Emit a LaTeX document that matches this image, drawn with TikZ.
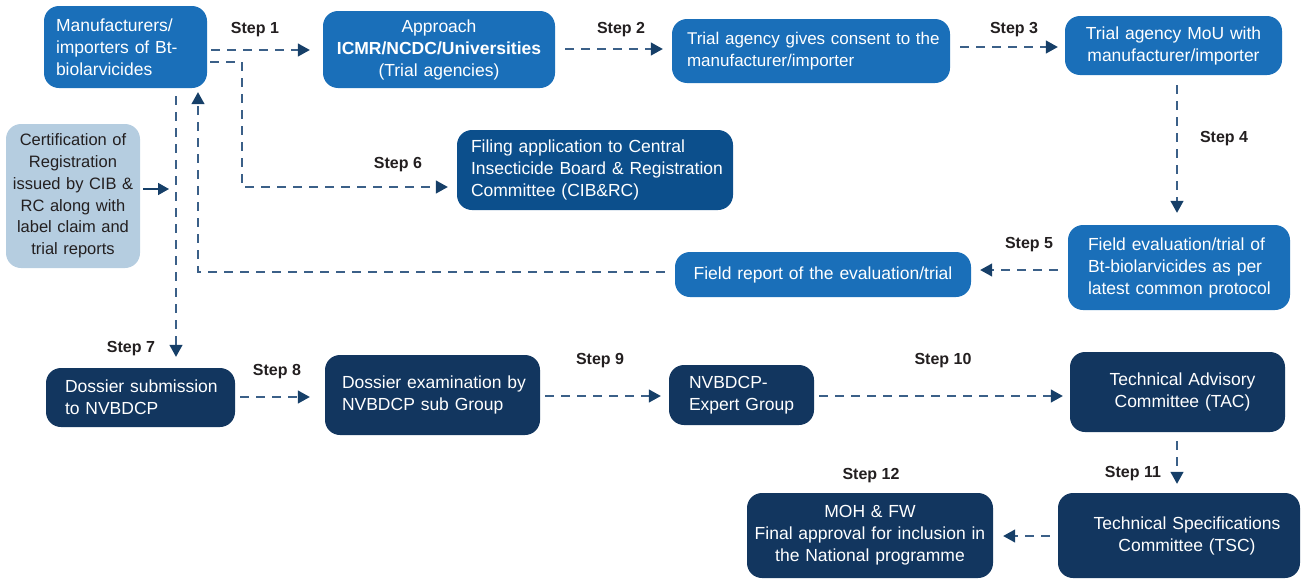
\documentclass[tikz,border=0pt]{standalone}
\usepackage{fontspec}
\setmainfont{Liberation Sans}
\usetikzlibrary{arrows.meta}
\definecolor{midblue}{HTML}{1A6FB9}
\definecolor{filblue}{HTML}{0C4F8C}
\definecolor{navy}{HTML}{12365F}
\definecolor{lightblue}{HTML}{B5CDE0}
\definecolor{linec}{HTML}{3B6088}
\definecolor{tipc}{HTML}{163F68}
\definecolor{labelc}{HTML}{231F20}
\tikzset{
  bx/.style={rounded corners=15pt, inner ysep=0pt, text=white,
    font=\fontsize{17.5}{22}\selectfont},
  mb/.style={bx, fill=midblue},
  fb/.style={bx, fill=filblue},
  nb/.style={bx, fill=navy},
  lb/.style={bx, fill=lightblue, text=labelc, font=\fontsize{16.5}{21.8}\selectfont},
  steplabel/.style={font=\fontsize{16}{18}\selectfont\bfseries, text=labelc},
  dl/.style={draw=linec, line width=1.3pt, dash pattern=on 9pt off 7pt,
    -{Triangle[length=12pt,width=13pt,color=tipc]}},
  sl/.style={draw=tipc, line width=1.6pt, -{Triangle[length=11pt,width=12pt,color=tipc]}}
}
\begin{document}
\begin{tikzpicture}[x=1pt,y=-1pt]
\useasboundingbox (0,0) rectangle (1303,581);

% boxes
\node[mb, minimum height=82pt, text width=139pt, inner xsep=12pt, align=left] (m) at (125.5,47)
  {Manufacturers/\\importers of Bt-\\biolarvicides};
\node[mb, minimum height=77pt, text width=216pt, inner xsep=8pt, align=center] (ap) at (439,49.5)
  {Approach\\\textbf{ICMR/NCDC/Universities}\\(Trial agencies)};
\node[mb, minimum height=64pt, text width=270pt, inner xsep=4pt, align=left, font=\fontsize{17}{22}\selectfont] (tc) at (811,51)
  {\hspace*{11pt}Trial agency gives consent to the\\\hspace*{11pt}manufacturer/importer};
\node[mb, minimum height=59pt, text width=201pt, inner xsep=8pt, align=center] (mou) at (1173.5,45.5)
  {Trial agency MoU with\\manufacturer/importer};
\node[mb, minimum height=85pt, text width=190pt, inner xsep=16pt, align=left] (fe) at (1179,267.5)
  {\hspace*{4pt}Field evaluation/trial of\\\hspace*{4pt}Bt-biolarvicides as per\\\hspace*{4pt}latest common protocol};
\node[mb, minimum height=45pt, text width=280pt, inner xsep=8pt, align=center] (fr) at (823,274.5)
  {Field report of the evaluation/trial};
\node[fb, minimum height=80pt, text width=258pt, inner xsep=9pt, align=left] (fil) at (595,170)
  {\hspace*{5pt}Filing application to Central\\\hspace*{5pt}Insecticide Board \& Registration\\\hspace*{5pt}Committee (CIB\&RC)};
\node[lb, minimum height=144pt, text width=126pt, inner xsep=4pt, align=center] (cert) at (73,196)
  {Certification of\\Registration\\issued by CIB \&\\RC along with\\label claim and\\trial reports};
\node[nb, minimum height=59pt, text width=161pt, inner xsep=14pt, align=left] (ds) at (140.5,397.5)
  {\hspace*{5pt}Dossier submission\\\hspace*{5pt}to NVBDCP};
\node[nb, minimum height=80pt, text width=191pt, inner xsep=12pt, align=left] (de) at (432.5,395)
  {\hspace*{5pt}Dossier examination by\\\hspace*{5pt}NVBDCP sub Group};
\node[nb, minimum height=60pt, text width=115pt, inner xsep=15pt, align=left] (ne) at (741.5,395)
  {\hspace*{5pt}NVBDCP-\\\hspace*{5pt}Expert Group};
\node[nb, minimum height=80pt, text width=199pt, inner xsep=8pt, align=center] (tac) at (1177.5,392)
  {\hspace*{10pt}Technical Advisory\\\hspace*{10pt}Committee (TAC)};
\node[nb, minimum height=85pt, text width=226pt, inner xsep=8pt, align=center] (tsc) at (1179,535.5)
  {\hspace*{16pt}Technical Specifications\\\hspace*{16pt}Committee (TSC)};
\node[nb, minimum height=85pt, text width=238pt, inner xsep=4pt, align=center] (moh) at (870,535.5)
  {MOH \& FW\\Final approval for inclusion in\\the National programme};

% step labels
\node[steplabel] (s1) at (255,30) {Step 1};
\node[steplabel] (s2) at (621,30) {Step 2};
\node[steplabel] (s3) at (1014,30) {Step 3};
\node[steplabel] (s4) at (1224,139) {Step 4};
\node[steplabel] (s5) at (1029,245) {Step 5};
\node[steplabel] (s6) at (398,165) {Step 6};
\node[steplabel] (s7) at (131,349) {Step 7};
\node[steplabel] (s8) at (277,372) {Step 8};
\node[steplabel] (s9) at (600,361) {Step 9};
\node[steplabel] (s10) at (943,361) {Step 10};
\node[steplabel] (s11) at (1133,474) {Step 11};
\node[steplabel] (s12) at (871,476) {Step 12};

% connectors
\coordinate (certtip) at (169,189);
\draw[dl, shorten <=4pt, shorten >=13pt] (m.east |- 0,50) -- (ap.west |- 0,50);
\draw[dl, shorten <=10pt, shorten >=9pt] (ap.east |- 0,49) -- (tc.west |- 0,49);
\draw[dl, shorten <=10pt, shorten >=7pt] (tc.east |- 0,47) -- (mou.west |- 0,47);
\draw[dl, shorten <=10pt, shorten >=12pt] (1177,0 |- mou.south) -- (1177,0 |- fe.north);
\draw[dl, shorten <=10pt, shorten >=9pt] (fe.west |- 0,270) -- (fr.east |- 0,270);
\draw[dl, shorten <=10pt, shorten >=4pt] (fr.west |- 0,272) -| (198,0 |- m.south);
\draw[dl, shorten <=3pt, shorten >=9pt] (m.east |- 0,62) -| (242,187) -- (fil.west |- 0,187);
\draw[dl, shorten <=8pt, shorten >=11pt] (176,0 |- m.south) -- (176,0 |- ds.north);
\draw[sl, shorten <=3pt] (cert.east |- certtip) -- (certtip);
\draw[dl, shorten <=5pt, shorten >=15pt] (ds.east |- 0,397) -- (de.west |- 0,397);
\draw[dl, shorten <=5pt, shorten >=8pt] (de.east |- 0,396) -- (ne.west |- 0,396);
\draw[dl, shorten <=5pt, shorten >=7pt] (ne.east |- 0,396) -- (tac.west |- 0,396);
\draw[dl, shorten <=9pt, shorten >=9pt] (1177,0 |- tac.south) -- (1177,0 |- tsc.north);
\draw[dl, shorten <=8pt, shorten >=10pt] (tsc.west |- 0,536) -- (moh.east |- 0,536);
\end{tikzpicture}
\end{document}
